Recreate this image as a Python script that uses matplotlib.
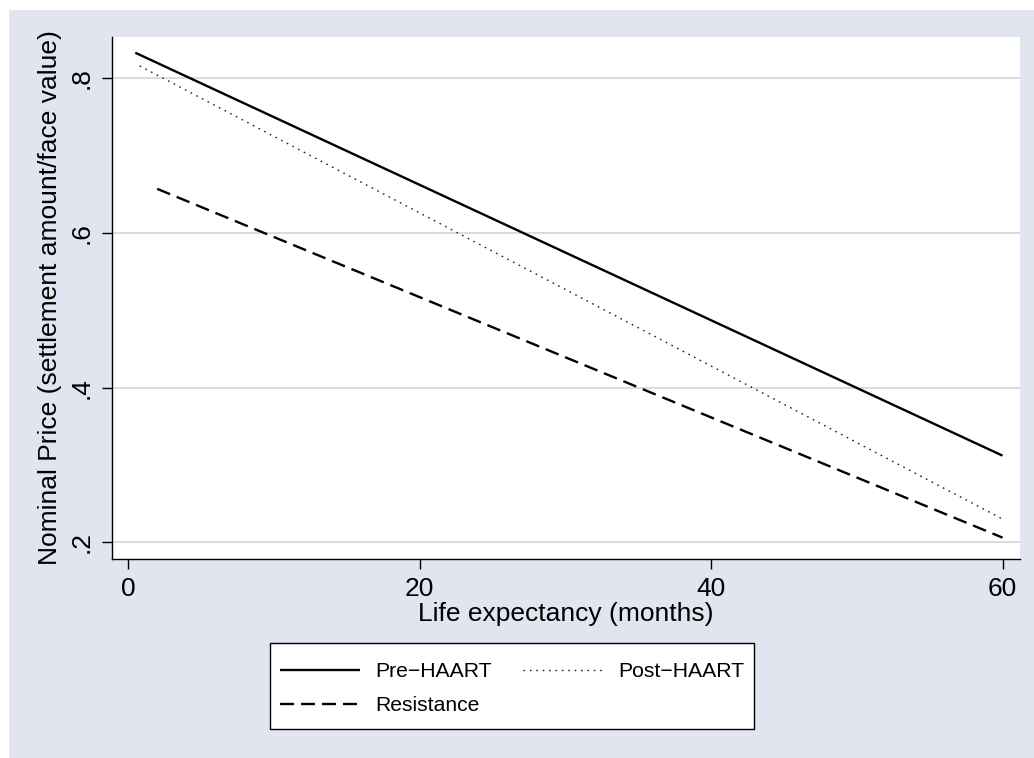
import matplotlib
matplotlib.use("Agg")
import matplotlib.pyplot as plt
from matplotlib.patches import Rectangle

# line endpoints (months, price)
pre_x = [0.5, 60]
pre_y = [0.833, 0.312]
post_x = [0.8, 59.9]
post_y = [0.816, 0.231]
res_x = [2.0, 60]
res_y = [0.657, 0.206]

xticks = [0, 20, 40, 60]
yticks = [0.2, 0.4, 0.6, 0.8]
ytick_labels = [".2", ".4", ".6", ".8"]

plt.rcParams["font.family"] = ["Liberation Sans", "DejaVu Sans"]

W, H = 1034, 758
fig = plt.figure(figsize=(W / 100, H / 100), dpi=100)
fig.patch.set_facecolor("white")
bg = "#e1e5f0"
fig.patches.append(Rectangle((9 / W, 0), 1 - 9 / W, 1 - 10 / H,
                             transform=fig.transFigure, facecolor=bg,
                             edgecolor="none", zorder=-10))

ax = fig.add_axes([112 / W, 1 - 558.5 / H, (1020 - 112) / W, (558.5 - 36.5) / H])
ax.set_facecolor("white")

l_pre, = ax.plot(pre_x, pre_y, color="black", lw=1.7, solid_capstyle="butt", label="Pre\u2212HAART")
l_post, = ax.plot(post_x, post_y, color="#222222", lw=1.0, dashes=(1.2, 3.4), label="Post\u2212HAART")
l_res, = ax.plot(res_x, res_y, color="black", lw=1.7, dashes=(5.9, 3.0), label="Resistance")

ax.set_xlim(-1.1, 61.2)
ax.set_ylim(0.179, 0.854)
ax.set_xticks(xticks)
ax.set_yticks(yticks)
ax.set_yticklabels(ytick_labels, rotation=90, va="center")
ax.tick_params(axis="both", direction="out", length=7, width=1, labelsize=19, pad=6)
ax.grid(axis="y", color="#d5dcea", lw=1.4)
ax.set_axisbelow(True)

for s in ["top", "right"]:
    ax.spines[s].set_visible(False)
for s in ["left", "bottom"]:
    ax.spines[s].set_linewidth(1.0)

ax.set_xlabel("Life expectancy (months)", fontsize=19, labelpad=1)
ax.set_ylabel("Nominal Price (settlement amount/face value)", fontsize=19, labelpad=6)

# legend box drawn separately (Stata pads it more vertically than sideways)
fig.patches.append(Rectangle((270 / W, 1 - 729 / H), (754 - 270) / W, (729 - 643) / H,
                             transform=fig.transFigure, facecolor="white",
                             edgecolor="black", lw=1.0, zorder=-5))

# matplotlib fills legend columns first, so order gives Pre/Post on row one
leg = fig.legend([l_pre, l_res, l_post], [l_pre.get_label(), l_res.get_label(), l_post.get_label()],
                 loc="center", bbox_to_anchor=(512 / W, 1 - 688.5 / H), ncol=2,
                 fontsize=15.2, handlelength=3.8, handletextpad=0.7,
                 columnspacing=1.5, labelspacing=0.7, borderpad=0.45,
                 frameon=False)

fig.savefig("out.png", dpi=100, facecolor=fig.get_facecolor())
